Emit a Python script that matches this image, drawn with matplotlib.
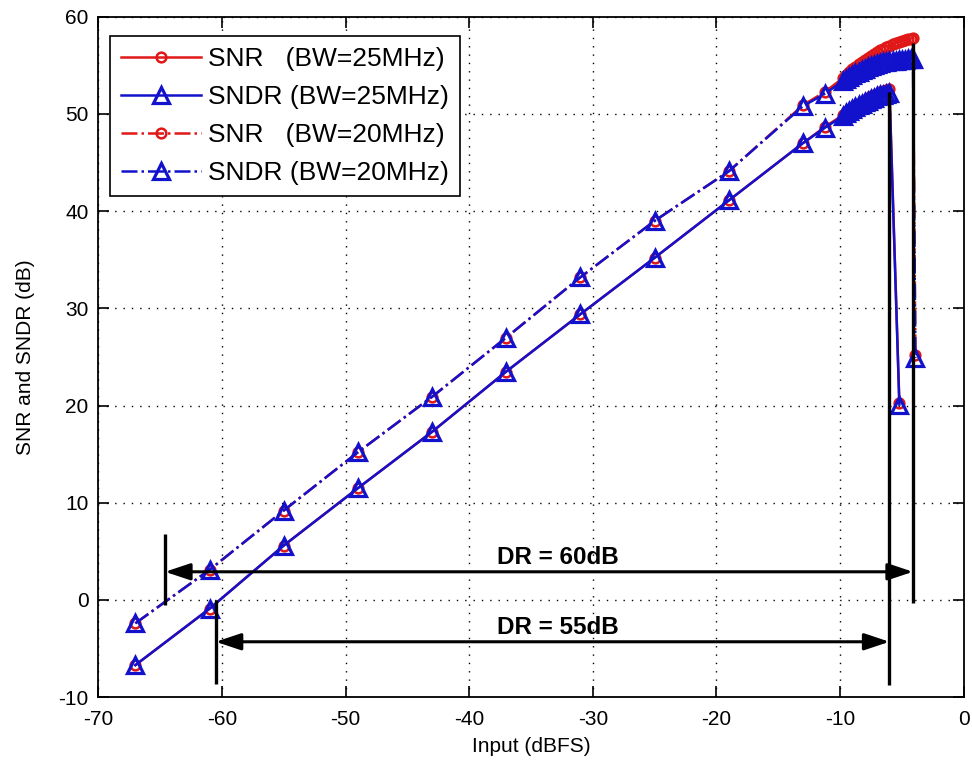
import matplotlib
matplotlib.use("Agg")
import matplotlib.pyplot as plt

plt.rcParams['font.family'] = ['Liberation Sans', 'DejaVu Sans']
plt.rcParams['axes.unicode_minus'] = False

# ---- SNR / SNDR sweep, BW = 25 MHz ----
x_25 = [-67, -61, -55, -49, -43, -37, -31, -25, -19, -13, -11.2, -9.75,
        -9.5, -9.25, -9.0, -8.75, -8.5, -8.25, -8.0, -7.75, -7.5, -7.25,
        -7.0, -6.75, -6.5, -6.25, -6.0, -5.2]
sndr_25 = [-6.7, -0.9, 5.6, 11.5, 17.3, 23.5, 29.4, 35.2, 41.1, 47.0, 48.6, 49.8,
           50.1, 50.3, 50.5, 50.7, 50.9, 51.05, 51.2, 51.35, 51.5, 51.65,
           51.8, 51.9, 52.0, 52.1, 52.2, 20.1]
snr_25 = [-6.7, -0.9, 5.6, 11.5, 17.3, 23.5, 29.4, 35.2, 41.1, 47.0, 48.7, 49.9,
          50.2, 50.4, 50.6, 50.8, 51.0, 51.2, 51.4, 51.6, 51.8, 51.95,
          52.1, 52.25, 52.4, 52.5, 52.6, 20.3]

# ---- SNR / SNDR sweep, BW = 20 MHz ----
x_20 = [-67, -61, -55, -49, -43, -37, -31, -25, -19, -13, -11.2, -9.75,
        -9.5, -9.25, -9.0, -8.75, -8.5, -8.25, -8.0, -7.75, -7.5, -7.25,
        -7.0, -6.75, -6.5, -6.25, -6.0, -5.75, -5.5, -5.25, -5.0, -4.75,
        -4.5, -4.25, -4.1, -3.9]
sndr_20 = [-2.4, 3.1, 9.2, 15.2, 20.9, 27.0, 33.2, 39.0, 44.1, 50.8, 52.1, 53.4,
           53.6, 53.8, 54.0, 54.2, 54.35, 54.5, 54.65, 54.8, 54.9, 55.0,
           55.1, 55.2, 55.3, 55.35, 55.4, 55.45, 55.5, 55.55, 55.6, 55.6,
           55.65, 55.65, 55.7, 24.9]
snr_20 = [-2.4, 3.1, 9.2, 15.2, 20.9, 27.0, 33.2, 39.0, 44.1, 50.9, 52.3, 53.7,
          54.0, 54.3, 54.6, 54.85, 55.1, 55.35, 55.6, 55.8, 56.0, 56.2,
          56.4, 56.55, 56.7, 56.85, 57.0, 57.15, 57.3, 57.4, 57.5, 57.6,
          57.7, 57.75, 57.8, 25.2]

# ---- dynamic-range annotations ----
dr_labels = ['DR = 60dB', 'DR = 55dB']
dr_left = [-64.6, -60.5]       # lowest usable input (dBFS)
dr_right = [-4.1, -6.0]        # overload point (dBFS)
dr_level = [2.9, -4.3]         # height of the arrows (dB)
dr_left_span = [(6.8, -0.5), (0.0, -8.6)]
dr_right_span = [(57.3, -0.3), (52.3, -8.7)]

x_ticks = [-70, -60, -50, -40, -30, -20, -10, 0]
y_ticks = [-10, 0, 10, 20, 30, 40, 50, 60]

RED = '#e01818'
BLUE = '#1212cc'
FS = 15

fig = plt.figure(figsize=(9.72, 7.69), dpi=100)
ax = fig.add_axes([0.1011, 0.0934, 0.8903, 0.8848])

ax.plot(x_25, snr_25, '-', color=RED, lw=1.8, marker='o', ms=7,
        mfc='none', mec=RED, mew=1.8, label='SNR   (BW=25MHz)')
ax.plot(x_25, sndr_25, '-', color=BLUE, lw=1.8, marker='^', ms=11,
        mfc='none', mec=BLUE, mew=2.3, label='SNDR (BW=25MHz)')
ax.plot(x_20, snr_20, '-.', color=RED, lw=1.8, marker='o', ms=7,
        mfc='none', mec=RED, mew=1.8, label='SNR   (BW=20MHz)')
ax.plot(x_20, sndr_20, '-.', color=BLUE, lw=1.8, marker='^', ms=11,
        mfc='none', mec=BLUE, mew=2.3, label='SNDR (BW=20MHz)')

for lab, xl, xr, lev, ls, rs in zip(dr_labels, dr_left, dr_right, dr_level,
                                    dr_left_span, dr_right_span):
    ax.plot([xl, xl], ls, color='k', lw=2.4, solid_capstyle='butt')
    ax.plot([xr, xr], rs, color='k', lw=2.4, solid_capstyle='butt')
    ax.annotate('', xy=(xr, lev), xytext=(xl, lev),
                arrowprops=dict(arrowstyle='<|-|>,head_length=0.9,head_width=0.3',
                                color='k', lw=2.2, shrinkA=0, shrinkB=0,
                                mutation_scale=17))
    ax.text(-32.8, lev + 0.75, lab, ha='center', va='baseline',
            fontsize=17.5, fontweight='bold')

ax.set_xlim(-70, 0)
ax.set_ylim(-10, 60)
ax.set_xticks(x_ticks)
ax.set_yticks(y_ticks)
ax.tick_params(direction='in', length=8, width=1.2, top=True, right=True,
               labelsize=FS)
ax.tick_params(axis='x', pad=9)
ax.tick_params(axis='y', pad=7)
ax.grid(True, color='k', linestyle=(0, (1, 5)), linewidth=1.0)
for sp in ax.spines.values():
    sp.set_linewidth(1.3)

ax.set_xlabel('Input (dBFS)', fontsize=FS, labelpad=6)
ax.set_ylabel('SNR and SNDR (dB)', fontsize=FS, labelpad=17)

leg = ax.legend(loc='upper left', bbox_to_anchor=(0.0139, 0.972),
                borderaxespad=0.0, fontsize=19, handlelength=3.0,
                fancybox=False, framealpha=1, edgecolor='k',
                labelspacing=0.53, handletextpad=0.3, borderpad=0.42)
leg.get_frame().set_linewidth(1.2)

fig.savefig('out.png', dpi=100, facecolor='white')
